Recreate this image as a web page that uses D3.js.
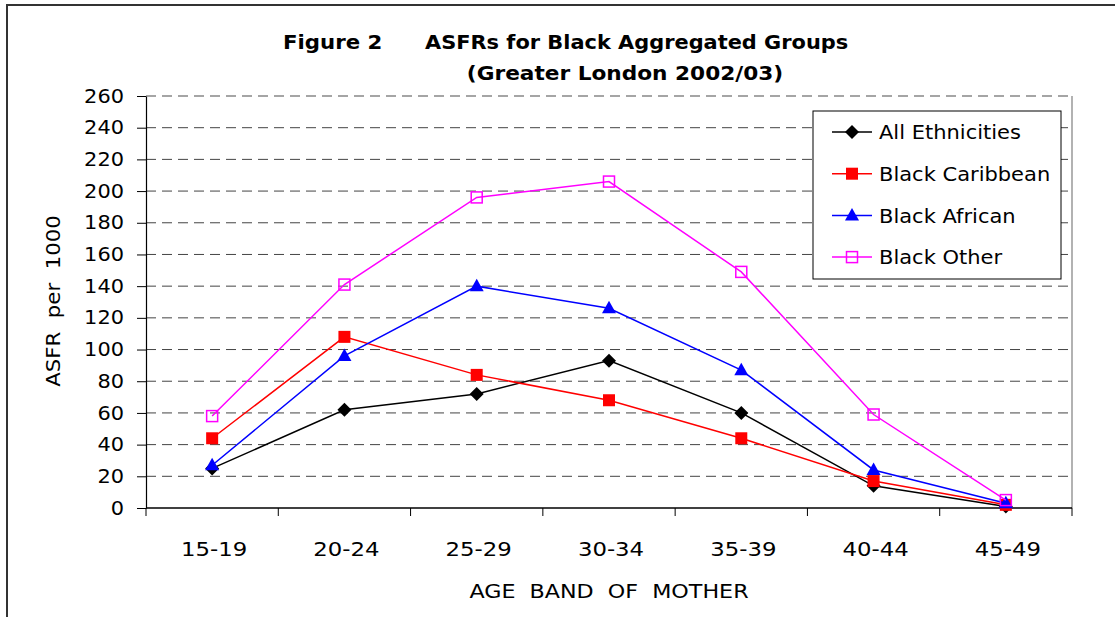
<!DOCTYPE html>
<html>
<head>
<meta charset="utf-8">
<script src="https://cdn.jsdelivr.net/npm/d3@7"></script>
<style>
  html, body { margin: 0; padding: 0; background: #fff; }
  svg { display: block; }
  text { font-family: "DejaVu Sans", Verdana, sans-serif; fill: #000; white-space: pre; }
</style>
</head>
<body>
<svg id="chart" width="1115" height="617"></svg>
<script>
// Age-specific fertility rates per 1000 women, Greater London 2002/03
const ageBands = ["15-19", "20-24", "25-29", "30-34", "35-39", "40-44", "45-49"];
const allEthnicities = [25, 62, 72, 93, 60, 14, 1];
const blackCaribbean = [44, 108, 84, 68, 44, 17, 2];
const blackAfrican   = [27, 96, 140, 126, 87, 24, 3];
const blackOther     = [58, 141, 196, 206, 149, 59, 5];
const yTicks = [0, 20, 40, 60, 80, 100, 120, 140, 160, 180, 200, 220, 240, 260];
const seriesNames = ["All Ethnicities", "Black Caribbean", "Black African", "Black Other"];

const series = [
  { name: seriesNames[0], values: allEthnicities, color: "#000000", symbol: "diamond" },
  { name: seriesNames[1], values: blackCaribbean, color: "#ff0000", symbol: "square" },
  { name: seriesNames[2], values: blackAfrican,   color: "#0000ff", symbol: "triangle" },
  { name: seriesNames[3], values: blackOther,     color: "#ff00ff", symbol: "openSquare" }
];

const svg = d3.select("#chart");
const W = 1115, H = 617;
const plot = { left: 146, right: 1072, top: 96, bottom: 508 };

// text placed at (px, py) and widened horizontally by sx
function wideText(parent, px, py, sx, str, anchor, size, weight) {
  const g = parent.append("g").attr("transform", `translate(${px},${py}) scale(${sx},1)`);
  return g.append("text")
    .attr("text-anchor", anchor || "start")
    .style("font-size", (size || 19) + "px")
    .style("font-weight", weight || "normal")
    .text(str);
}

// outer chart frame
svg.append("rect")
  .attr("x", 7).attr("y", 5)
  .attr("width", W + 20).attr("height", H + 20)
  .attr("fill", "#fff").attr("stroke", "#333").attr("stroke-width", 2);

const x = d3.scaleBand().domain(ageBands).range([plot.left, plot.right]).padding(0);
const y = d3.scaleLinear().domain([0, 260]).range([plot.bottom, plot.top]);
const cx = d => x(d) + x.bandwidth() / 2;

// horizontal dashed gridlines
svg.append("g").selectAll("line")
  .data(yTicks.filter(t => t > 0))
  .join("line")
  .attr("x1", plot.left).attr("x2", plot.right)
  .attr("y1", d => y(d)).attr("y2", d => y(d))
  .attr("stroke", d => d === 260 ? "#888" : "#444")
  .attr("stroke-width", d => d === 260 ? 1.5 : 1)
  .attr("stroke-dasharray", "10,6");

// right border of the plot area
svg.append("line")
  .attr("x1", plot.right).attr("x2", plot.right)
  .attr("y1", plot.top).attr("y2", plot.bottom)
  .attr("stroke", "#999").attr("stroke-width", 1.5);

// y axis
const ySx = 1.1;
const yAxis = svg.append("g")
  .attr("transform", `translate(${plot.left},0)`)
  .call(d3.axisLeft(y).tickValues(yTicks).tickSize(9).tickPadding(13).tickSizeOuter(0));
yAxis.select(".domain").attr("stroke", "#000").attr("stroke-width", 1.2);
yAxis.selectAll(".tick line").attr("stroke", "#000");
yAxis.selectAll("text")
  .attr("x", -22 / ySx)
  .attr("transform", `scale(${ySx},1)`)
  .style("font-size", "19px")
  .style("font-family", '"DejaVu Sans", Verdana, sans-serif');

// x axis: baseline, ticks at band boundaries, labels centred in bands
svg.append("line")
  .attr("x1", plot.left).attr("x2", plot.right)
  .attr("y1", plot.bottom).attr("y2", plot.bottom)
  .attr("stroke", "#000").attr("stroke-width", 1.5);
const edges = ageBands.map(d => x(d)).concat([x.range()[1]]);
svg.append("g").selectAll("line")
  .data(edges).join("line")
  .attr("x1", d => d).attr("x2", d => d)
  .attr("y1", plot.bottom).attr("y2", plot.bottom + 8)
  .attr("stroke", "#000");
const xLabels = svg.append("g");
ageBands.forEach(d => wideText(xLabels, cx(d) + 2, 556, 1.2, d, "middle", 19));

// axis titles
wideText(svg, 609, 598, 1.17, "AGE  BAND  OF  MOTHER", "middle", 19);
svg.append("g").attr("transform", "translate(60,301) rotate(-90) scale(1.12,1)")
  .append("text")
  .attr("text-anchor", "middle")
  .style("font-size", "19px")
  .text("ASFR  per  1000");

// title
wideText(svg, 283, 49, 1.12, "Figure 2", "start", 19, "bold");
wideText(svg, 425, 49, 1.1, "ASFRs for Black Aggregated Groups", "start", 19, "bold");
wideText(svg, 625, 80, 1.14, "(Greater London 2002/03)", "middle", 19, "bold");

// marker drawing
function drawMarker(sel, s) {
  if (s.symbol === "diamond") {
    sel.append("path").attr("d", "M0,-7L7,0L0,7L-7,0Z").attr("fill", s.color);
  } else if (s.symbol === "square") {
    sel.append("rect").attr("x", -6).attr("y", -6).attr("width", 12).attr("height", 12).attr("fill", s.color);
  } else if (s.symbol === "triangle") {
    sel.append("path").attr("d", "M0,-7.5L7,5L-7,5Z").attr("fill", s.color);
  } else {
    sel.append("rect").attr("x", -5.5).attr("y", -5.5).attr("width", 11).attr("height", 11)
      .attr("fill", "none").attr("stroke", s.color).attr("stroke-width", 1.5);
  }
}

const line = d3.line().x((d, i) => cx(ageBands[i])).y(d => y(d));

series.forEach(s => {
  const g = svg.append("g");
  g.append("path")
    .attr("d", line(s.values))
    .attr("fill", "none").attr("stroke", s.color).attr("stroke-width", 1.5);
  g.selectAll("g.pt").data(s.values).join("g")
    .attr("class", "pt")
    .attr("transform", (d, i) => `translate(${cx(ageBands[i])},${y(d)})`)
    .each(function () { drawMarker(d3.select(this), s); });
});

// legend
const legend = svg.append("g");
legend.append("rect")
  .attr("x", 813).attr("y", 111).attr("width", 248).attr("height", 168)
  .attr("fill", "#fff").attr("stroke", "#000").attr("stroke-width", 1);
series.forEach((s, i) => {
  const ly = 132 + i * 41.7;
  const row = legend.append("g").attr("transform", `translate(0,${ly})`);
  row.append("line").attr("x1", 832).attr("x2", 872).attr("y1", 0).attr("y2", 0)
    .attr("stroke", s.color).attr("stroke-width", 1.5);
  drawMarker(row.append("g").attr("transform", "translate(852,0)"), s);
  wideText(row, 879, 0, 1.05, s.name, "start", 20).attr("dy", "0.36em");
});
</script>
</body>
</html>
